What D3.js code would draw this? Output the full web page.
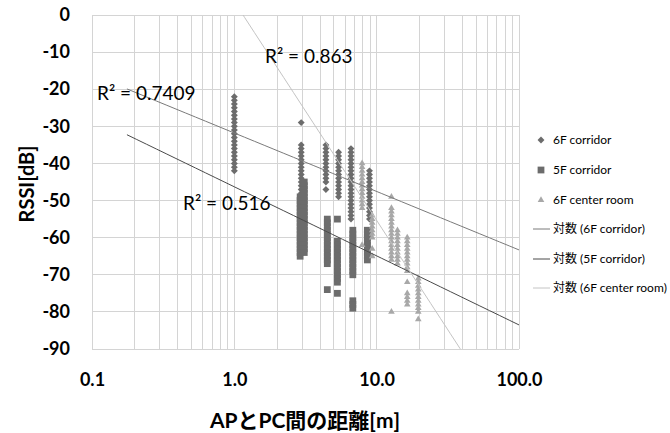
<!DOCTYPE html>
<html><head><meta charset="utf-8">
<script src="https://cdn.jsdelivr.net/npm/d3@7"></script>
<style>body{margin:0;background:#fff;}svg{display:block;}</style>
</head><body>
<svg id="c" width="670" height="433"></svg>
<script>
// ---- data ----
const seriesNames = ["6F corridor", "5F corridor", "6F center room"];
const corridor6F = [
  {x: 1.0, y: [-22,-23,-24,-25,-26,-27,-28,-29,-30,-31,-32,-33,-34,-35,-36,-37,-38,-39,-40,-41,-42]},
  {x: 2.95, y: [-29,-35,-36,-37,-38,-39,-40,-41,-42,-43,-44,-45,-46,-47,-48,-49,-50]},
  {x: 4.4, y: [-35,-36,-37,-38,-39,-40,-41,-42,-43,-44,-45,-47]},
  {x: 5.4, y: [-37,-38,-39,-40,-41,-42,-43,-44,-45,-46,-47,-48,-49]},
  {x: 6.6, y: [-36,-37,-38,-39,-40,-41,-42,-43,-44,-45,-46,-47,-48,-49,-50,-51,-52,-53,-54,-55]},
  {x: 8.9, y: [-42,-43,-44,-45,-46,-47,-48,-49,-50,-51,-52,-53,-54,-55]}
];
const corridor5F = [
  {x: 2.9, y: [-49,-50,-51,-52,-53,-54,-55,-56,-57,-58,-59,-60,-61,-62,-63,-64,-65]},
  {x: 3.1, y: [-45,-46,-47,-48,-49,-50,-51,-52,-53,-54,-55,-56,-57,-58,-59,-60,-61,-62,-63,-64]},
  {x: 4.5, y: [-55,-56,-57,-58,-59,-60,-61,-62,-63,-64,-65,-66,-67,-74]},
  {x: 5.3, y: [-55,-61,-62,-63,-64,-65,-66,-67,-68,-69,-70,-71,-72,-75]},
  {x: 6.8, y: [-58,-59,-60,-61,-62,-63,-64,-65,-66,-67,-68,-69,-70,-77,-78,-79]},
  {x: 8.6, y: [-58,-59,-60,-61,-62,-63,-64,-65,-66]}
];
const centerRoom6F = [
  {x: 7.9, y: [-40,-41,-42,-43,-44,-45,-46,-47,-48,-49,-50,-51,-52,-62]},
  {x: 9.3, y: [-54,-55,-56,-57,-58,-59,-60,-63,-65]},
  {x: 12.7, y: [-49,-52,-53,-54,-55,-56,-57,-58,-59,-60,-61,-62,-63,-64,-65,-66,-80]},
  {x: 14.0, y: [-58,-59,-60,-61,-62,-63,-64,-65,-66,-67]},
  {x: 16.4, y: [-60,-61,-62,-63,-64,-65,-66,-67,-68,-69,-72,-75,-76,-77,-78]},
  {x: 19.6, y: [-71,-72,-73,-74,-75,-76,-77,-78,-79,-80,-82]}
];
// logarithmic trendlines y = a*ln(x) + b
const trendA = [-6.84, -8.08, -25.6];
const trendB = [-31.8, -46.3, 3.6];
const trendRange = [0.176, 100];
const r2Labels = ["R² = 0.7409", "R² = 0.516", "R² = 0.863"];
const yTicks = [0,-10,-20,-30,-40,-50,-60,-70,-80,-90];
const xTicks = [0.1, 1, 10, 100];
const xTickLabels = ["0.1", "1.0", "10.0", "100.0"];
const legendLabels = ["6F corridor", "5F corridor", "6F center room", "対数 (6F corridor)", "対数 (5F corridor)", "対数 (6F center room)"];

// ---- drawing ----
const svg = d3.select("#c");
const L = 92, R = 519, T = 15, B = 349;
const x = d3.scaleLog().domain([0.1, 100]).range([L, R]);
const y = d3.scaleLinear().domain([-90, 0]).range([B, T]);
const font = "Lato, 'Noto Sans CJK JP', sans-serif";
const gridColor = "#d4d4d4";

// grid
const minor = [];
for (let d = 0.1; d < 100; d *= 10) for (let k = 1; k <= 10; k++) minor.push(+(d * k).toPrecision(3));
svg.append("g").selectAll("line").data(Array.from(new Set(minor))).join("line")
  .attr("x1", d => x(d)).attr("x2", d => x(d)).attr("y1", T).attr("y2", B)
  .attr("stroke", gridColor).attr("stroke-width", 1).attr("shape-rendering", "crispEdges");
svg.append("g").selectAll("line").data(yTicks).join("line")
  .attr("x1", L).attr("x2", R).attr("y1", d => y(d)).attr("y2", d => y(d))
  .attr("stroke", gridColor).attr("stroke-width", 1).attr("shape-rendering", "crispEdges");

// axes labels
const yAxis = d3.axisLeft(y).tickValues(yTicks).tickSize(0).tickPadding(22).tickFormat(d => String(d));
const gy = svg.append("g").attr("transform", `translate(${L},0)`).call(yAxis);
gy.select(".domain").remove();
gy.selectAll("text").attr("font-family", font).attr("font-size", 18).attr("font-weight", "bold").attr("fill", "#000");
const xAxis = d3.axisBottom(x).tickValues(xTicks).tickSize(0).tickPadding(24).tickFormat((d, i) => xTickLabels[i]);
const gx = svg.append("g").attr("transform", `translate(0,${B})`).call(xAxis);
gx.select(".domain").remove();
gx.selectAll("text").attr("font-family", font).attr("font-size", 18).attr("font-weight", "bold").attr("fill", "#000");

svg.append("text").attr("transform", `translate(34,${(T + B) / 2 + 2}) rotate(-90)`)
  .attr("text-anchor", "middle").attr("font-family", font).attr("font-size", 20).attr("font-weight", "bold")
  .text("RSSI[dB]");
svg.append("text").attr("x", 305).attr("y", 428)
  .attr("text-anchor", "middle").attr("font-family", font).attr("font-size", 21).attr("font-weight", "bold")
  .text("APとPC間の距離[m]");

// points
const flat = s => s.flatMap(c => c.y.map(v => ({x: c.x, y: v})));
const colors = ["#6c6c6c", "#6c6c6c", "#a8a8a8"];
const diamond = {draw(ctx, size) { const r = Math.sqrt(size / 2); ctx.moveTo(0, -r); ctx.lineTo(r, 0); ctx.lineTo(0, r); ctx.lineTo(-r, 0); ctx.closePath(); }};
const symbols = [diamond, d3.symbolSquare, d3.symbolTriangle];
const sizes = [24, 46, 19];
[corridor6F, corridor5F, centerRoom6F].forEach((s, i) => {
  svg.append("g").selectAll("path").data(flat(s)).join("path")
    .attr("transform", d => `translate(${x(d.x)},${y(d.y)})`)
    .attr("d", d3.symbol().type(symbols[i]).size(sizes[i]))
    .attr("fill", colors[i]);
});

// trendlines
svg.append("clipPath").attr("id", "clip").append("rect").attr("x", L).attr("y", T).attr("width", R - L).attr("height", B - T);
const lineColors = ["#7a7a7a", "#4a4a4a", "#c4c4c4"];
const tg = svg.append("g").attr("clip-path", "url(#clip)");
trendA.forEach((a, i) => {
  const pts = d3.range(0, 41).map(k => {
    const xv = trendRange[0] * Math.pow(trendRange[1] / trendRange[0], k / 40);
    return [x(xv), y(a * Math.log(xv) + trendB[i])];
  });
  tg.append("path").attr("d", d3.line()(pts)).attr("fill", "none").attr("stroke", lineColors[i]).attr("stroke-width", 1);
});

// R² labels
const r2Pos = [[97, 100], [183, 210], [265, 63]];
r2Labels.forEach((t, i) => {
  svg.append("text").attr("x", r2Pos[i][0]).attr("y", r2Pos[i][1]).attr("font-family", font).attr("font-size", 19)
    .attr("fill", "#000").text(t);
});

// legend
const lg = svg.append("g");
const ly = [140, 170, 200, 229, 259, 288];
legendLabels.forEach((t, i) => {
  if (i < 3) {
    lg.append("path").attr("transform", `translate(541,${ly[i]})`)
      .attr("d", d3.symbol().type(symbols[i]).size(sizes[i])).attr("fill", colors[i]);
  } else {
    lg.append("line").attr("x1", 533).attr("x2", 550).attr("y1", ly[i]).attr("y2", ly[i])
      .attr("stroke", lineColors[i - 3]).attr("stroke-width", 1);
  }
  lg.append("text").attr("x", 553).attr("y", ly[i]).attr("dy", "0.35em").attr("font-family", font)
    .attr("font-size", 12).attr("fill", "#000").text(t);
});
</script>
</body></html>
